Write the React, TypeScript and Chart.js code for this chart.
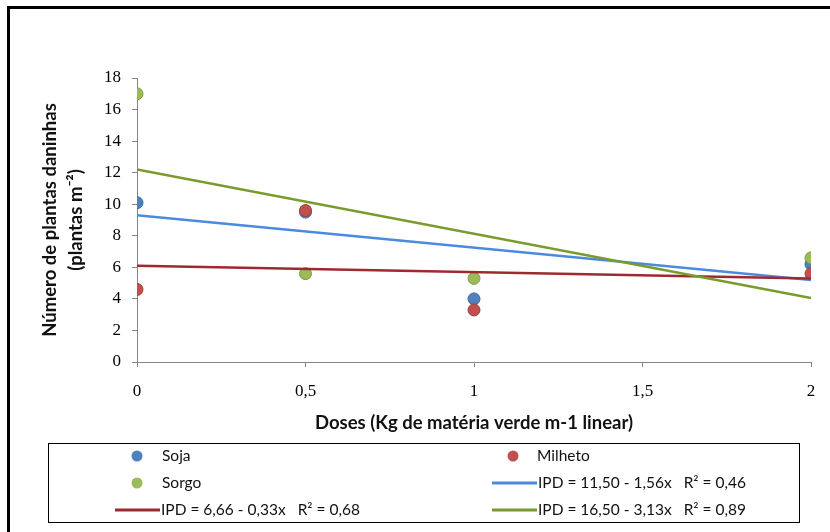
import React, { useEffect, useRef } from "react";
import { Chart, registerables } from "chart.js";

Chart.register(...registerables);

const doses = [0, 0.5, 1, 2];
const soja = [10.1, 9.5, 4.0, 6.2];
const milheto = [4.6, 9.6, 3.3, 5.6];
const sorgo = [17.0, 5.6, 5.3, 6.6];

const trendX = [0, 2];
const trendSoja = [9.3, 5.2];
const trendMilheto = [6.1, 5.3];
const trendSorgo = [12.2, 4.05];

const seriesNames = ["Soja", "Milheto", "Sorgo"];
const trendLabels = [
  "IPD = 11,50 - 1,56x   R² = 0,46",
  "IPD = 6,66 - 0,33x   R² = 0,68",
  "IPD = 16,50 - 3,13x   R² = 0,89",
];

const xTitle = "Doses (Kg de matéria verde m-1 linear)";
const yTitle = ["Número de plantas daninhas", "(plantas m⁻²)"];

const C_SOJA = "#4F81BD";
const C_MILHETO = "#C0504D";
const C_SORGO = "#9BBB59";
const L_SOJA = "#4A8BDF";
const L_MILHETO = "#9E2A2F";
const L_SORGO = "#7A9A2E";

const toPts = (xs: number[], ys: number[]) => xs.map((x, i) => ({ x, y: ys[i] }));

const legendPlugin = {
  id: "customLegend",
  afterDraw(chart: any) {
    const ctx = chart.ctx;
    ctx.save();
    ctx.strokeStyle = "#000";
    ctx.lineWidth = 1;
    ctx.strokeRect(48.5, 443.5, 751, 79);
    ctx.font = "15.5px Lato";
    ctx.fillStyle = "#111";
    ctx.textBaseline = "middle";
    ctx.textAlign = "left";
    const marker = (x: number, y: number, c: string) => {
      ctx.beginPath();
      ctx.arc(x, y, 5.5, 0, Math.PI * 2);
      ctx.fillStyle = c;
      ctx.fill();
      ctx.fillStyle = "#111";
    };
    const line = (x1: number, x2: number, y: number, c: string) => {
      ctx.beginPath();
      ctx.moveTo(x1, y);
      ctx.lineTo(x2, y);
      ctx.strokeStyle = c;
      ctx.lineWidth = 3;
      ctx.stroke();
    };
    marker(137, 456, C_SOJA);
    ctx.fillText(seriesNames[0], 162, 456);
    marker(513, 456, C_MILHETO);
    ctx.fillText(seriesNames[1], 537, 456);
    marker(137, 483, C_SORGO);
    ctx.fillText(seriesNames[2], 162, 483);
    line(492, 537, 483, L_SOJA);
    ctx.fillText(trendLabels[0], 538, 483);
    line(115, 160, 510, L_MILHETO);
    ctx.fillText(trendLabels[1], 161, 510);
    line(492, 537, 510, L_SORGO);
    ctx.fillText(trendLabels[2], 538, 510);
    ctx.restore();
  },
};

export default function App() {
  const ref = useRef<HTMLCanvasElement | null>(null);
  useEffect(() => {
    if (!ref.current) return;
    const chart = new Chart(ref.current, {
      type: "scatter",
      data: {
        datasets: [
          {
            label: seriesNames[0],
            data: toPts(doses, soja),
            backgroundColor: C_SOJA,
            borderColor: "#3A6A9F",
            borderWidth: 1,
            pointRadius: 6,
            order: 6,
          },
          {
            label: seriesNames[1],
            data: toPts(doses, milheto),
            backgroundColor: C_MILHETO,
            borderColor: "#A33B38",
            borderWidth: 1,
            pointRadius: 6,
            order: 5,
          },
          {
            label: seriesNames[2],
            data: toPts(doses, sorgo),
            backgroundColor: C_SORGO,
            borderColor: "#7D9A45",
            borderWidth: 1,
            pointRadius: 6,
            order: 4,
          },
          {
            label: trendLabels[0],
            data: toPts(trendX, trendSoja),
            showLine: true,
            borderColor: L_SOJA,
            borderWidth: 2.5,
            pointRadius: 0,
            order: 3,
          },
          {
            label: trendLabels[1],
            data: toPts(trendX, trendMilheto),
            showLine: true,
            borderColor: L_MILHETO,
            borderWidth: 2.5,
            pointRadius: 0,
            order: 2,
          },
          {
            label: trendLabels[2],
            data: toPts(trendX, trendSorgo),
            showLine: true,
            borderColor: L_SORGO,
            borderWidth: 2.5,
            pointRadius: 0,
            order: 1,
          },
        ],
      },
      options: {
        animation: false,
        responsive: true,
        maintainAspectRatio: false,
        layout: { padding: { left: 37, right: 19, top: 78, bottom: 97.5 } },
        plugins: {
          legend: { display: false },
          tooltip: { enabled: false },
        },
        scales: {
          x: {
            type: "linear",
            min: 0,
            max: 2,
            afterFit: (s: any) => {
              s.height = 72.5;
            },
            ticks: {
              stepSize: 0.5,
              padding: 14,
              color: "#000",
              font: { family: "Liberation Serif", size: 17 },
              callback: (v: any) => String(v).replace(".", ","),
            },
            grid: {
              drawOnChartArea: false,
              drawTicks: true,
              tickLength: 5,
              color: "#868686",
            },
            border: { color: "#868686", width: 1 },
            title: {
              display: true,
              text: xTitle,
              color: "#111",
              font: { family: "Lato", size: 18.5, weight: "bold", lineHeight: 1.25 },
              padding: 0,
            },
          },
          y: {
            min: 0,
            max: 18,
            afterFit: (s: any) => {
              s.width = 137 - 37;
            },
            ticks: {
              stepSize: 2,
              padding: 11,
              color: "#000",
              font: { family: "Liberation Serif", size: 17 },
            },
            grid: {
              drawOnChartArea: false,
              drawTicks: true,
              tickLength: 5,
              color: "#868686",
            },
            border: { color: "#868686", width: 1 },
            title: {
              display: true,
              text: yTitle,
              color: "#111",
              font: { family: "Lato", size: 18.5, weight: "bold", lineHeight: 1.405 },
              padding: 0,
            },
          },
        },
      },
      plugins: [legendPlugin],
    });
    return () => chart.destroy();
  }, []);

  return (
    <div
      style={{
        position: "absolute",
        left: 0,
        top: 0,
        width: 830,
        height: 532,
        overflow: "hidden",
        background: "#fff",
      }}
    >
      <div
        style={{
          position: "absolute",
          left: 7,
          top: 6,
          width: 900,
          height: 600,
          border: "3px solid #000",
          boxSizing: "border-box",
        }}
      />
      <canvas ref={ref} style={{ position: "absolute", left: 0, top: 0, width: 830, height: 532 }} />
    </div>
  );
}
